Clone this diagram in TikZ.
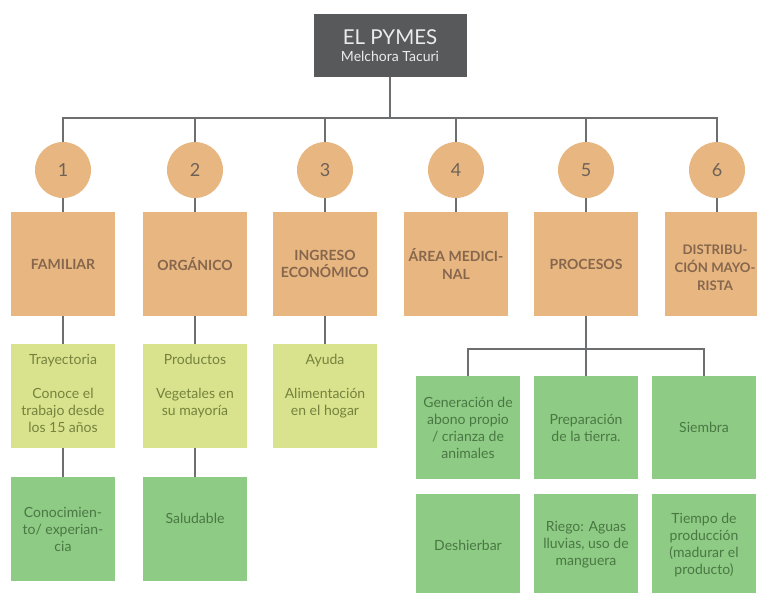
\documentclass[tikz,border=0pt]{standalone}
\usepackage{fontspec}
\setmainfont{Lato}
\definecolor{orangec}{HTML}{E8B680}
\definecolor{lgreen}{HTML}{D9E38E}
\definecolor{dgreen}{HTML}{8ECB84}
\definecolor{titlec}{HTML}{58595B}
\definecolor{linec}{HTML}{6D6E70}
\definecolor{otext}{HTML}{86674D}
\definecolor{ltext}{HTML}{76823C}
\definecolor{dtext}{HTML}{4A7844}
\definecolor{numtext}{HTML}{6E6258}
\tikzset{
  conn/.style={draw=linec, line width=1.4pt},
  sq/.style={rectangle, minimum width=104pt, minimum height=104pt, inner sep=0pt, align=center},
  obox/.style={sq, fill=orangec, text=otext, font=\fontsize{14}{17.5}\selectfont\bfseries},
  otxt/.style={inner sep=0pt, align=center, text=otext, font=\fontsize{13.2}{18}\selectfont\bfseries},
  lbox/.style={sq, fill=lgreen, text=ltext, font=\fontsize{14}{17}\selectfont},
  dbox/.style={sq, fill=dgreen, text=dtext, font=\fontsize{14}{17}\selectfont},
  pbox/.style={sq, minimum height=103pt, fill=dgreen, text=dtext, font=\fontsize{14}{17}\selectfont},
  numc/.style={circle, minimum size=56pt, inner sep=0pt, fill=orangec, text=numtext, font=\fontsize{18}{18}\selectfont},
  ttl/.style={rectangle, minimum width=153pt, minimum height=63pt, fill=titlec, text=white!92!black, align=center}
}
\newcommand{\topbox}[1]{\parbox[c][86pt][t]{102pt}{\centering\strut #1}}
\begin{document}
\begin{tikzpicture}[x=1pt,y=-1pt]
\useasboundingbox (0,0) rectangle (757,592);
\clip (0,0) rectangle (757,592);
\fill[white] (0,0) rectangle (757,592);

\node[ttl] (title) at (390,45.5) {\fontsize{20.5}{22}\selectfont EL PYMES\\[5pt]\fontsize{14}{19}\selectfont Melchora Tacuri};
\coordinate (bus) at (390,118);

\node[numc] (c1) at (63,170) {1};
\node[numc] (c2) at (195,170) {2};
\node[numc] (c3) at (325,170) {3};
\node[numc] (c4) at (456,170) {4};
\node[numc] (c5) at (586,170) {5};
\node[numc] (c6) at (717,170) {6};

\node[obox] (o1) at (63,264) {FAMILIAR};
\node[obox] (o2) at (195,264) {ORGÁNICO};
\node[obox] (o3) at (325,264) {INGRESO\\ECONÓMICO};
\node[obox] (o4) at (456,264) {ÁREA MEDICI-\\NAL};
\node[obox] (o5) at (586,264) {PROCESOS};
\node[obox] (o6) at (717,264) {};
\node[otxt] (o6t) at (715,268) {DISTRIBU-\\CIÓN MAYO-\\RISTA};

\node[lbox] (l1) at (63,396) {\topbox{Trayectoria\\[17pt]Conoce el\\trabajo desde\\los 15 años}};
\node[lbox] (l2) at (195,396) {\topbox{Productos\\[17pt]Vegetales en\\su mayoría}};
\node[lbox] (l3) at (325,396) {\topbox{Ayuda\\[17pt]Alimentación\\en el hogar}};

\node[dbox] (d1) at (63,529) {\parbox[c][98pt][c]{102pt}{\centering Conocimien-\\to/ experian-\\cia}};
\node[dbox] (d2) at (195,529) {\topbox{\\[9pt]Saludable}};

\coordinate (pbus) at (586,349);
\node[pbox] (pA) at (468,427.5) {Generación de\\abono propio\\/ crianza de\\animales};
\node[pbox] (pB) at (586,427.5) {Preparación\\de la tierra.};
\node[pbox] (pC) at (704,427.5) {Siembra};
\node[pbox] (pD) at (468,545) {Deshierbar};
\node[pbox] (pE) at (586,545) {Riego: Aguas\\lluvias, uso de\\manguera};
\node[pbox] (pF) at (704,545) {Tiempo de\\producción\\(madurar el\\producto)};

\draw[conn] (title.south) -- (bus);
\draw[conn] (c1.north) |- (bus) -| (c6.north);
\foreach \i in {2,...,5} {\draw[conn] (c\i.north) -- (c\i.north |- bus);}
\foreach \i in {1,...,6} {\draw[conn] (c\i) -- (o\i.north);}
\foreach \i in {1,2,3} {\draw[conn] (o\i) -- (l\i);}
\draw[conn] (l1) -- (d1);
\draw[conn] (l2) -- (d2);
\draw[conn] (o5) -- (pbus);
\draw[conn] (pA.north) |- (pbus) -| (pC.north);
\draw[conn] (pbus) -- (pB.north);
\end{tikzpicture}
\end{document}
